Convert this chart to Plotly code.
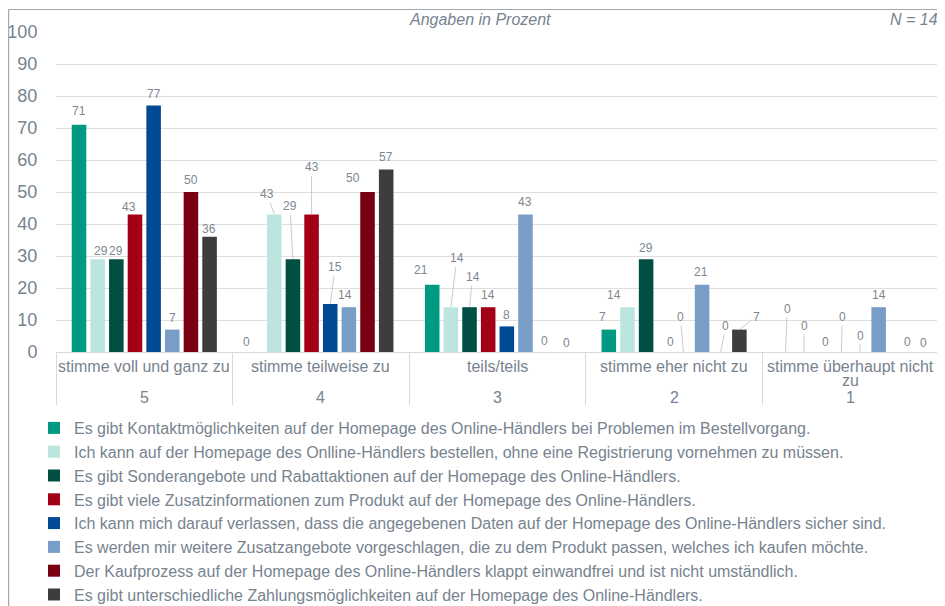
import plotly.graph_objects as go

# ---------------- data ----------------
groups = ["5", "4", "3", "2", "1"]
group_labels = ["stimme voll und ganz zu", "stimme teilweise zu", "teils/teils",
                "stimme eher nicht zu", "stimme überhaupt nicht<br>zu"]
series_names = [
    "Es gibt Kontaktmöglichkeiten auf der Homepage des Online-Händlers bei Problemen im Bestellvorgang.",
    "Ich kann auf der Homepage des Onlline-Händlers bestellen, ohne eine Registrierung vornehmen zu müssen.",
    "Es gibt Sonderangebote und Rabattaktionen auf der Homepage des Online-Händlers.",
    "Es gibt viele Zusatzinformationen zum Produkt auf der Homepage des Online-Händlers.",
    "Ich kann mich darauf verlassen, dass die angegebenen Daten auf der Homepage des Online-Händlers sicher sind.",
    "Es werden mir weitere Zusatzangebote vorgeschlagen, die zu dem Produkt passen, welches ich kaufen möchte.",
    "Der Kaufprozess auf der Homepage des Online-Händlers klappt einwandfrei und ist nicht umständlich.",
    "Es gibt unterschiedliche Zahlungsmöglichkeiten auf der Homepage des Online-Händlers.",
]
kontakt = [71, 0, 21, 7, 0]
ohne_registrierung = [29, 43, 14, 14, 0]
sonderangebote = [29, 29, 14, 29, 0]
zusatzinfos = [43, 43, 14, 0, 0]
datensicherheit = [77, 15, 8, 0, 0]
zusatzangebote = [7, 14, 43, 21, 14]
kaufprozess = [50, 50, 0, 0, 0]
zahlung = [36, 57, 0, 7, 0]
series_values = [kontakt, ohne_registrierung, sonderangebote, zusatzinfos,
                 datensicherheit, zusatzangebote, kaufprozess, zahlung]
y_ticks = [0, 10, 20, 30, 40, 50, 60, 70, 80, 90, 100]

# ---------------- styles ----------------
colors = ["#009a83", "#bde5e0", "#004f42", "#a30016", "#004a95", "#789dc7", "#790012", "#3d3d3d"]
FONT = "Liberation Sans, Arial, sans-serif"
TXT = "#77838f"
LBL = "#7d8790"
OFF = 8                      # page body margin
W, H = 945 - OFF, 606 - OFF
ML, MR = 56 - OFF, 6
MT = 32 - OFF
MB = H - (352 - OFF)
PW, PH = W - ML - MR, H - MT - MB
BARGAP, BARGROUPGAP = 0.155, 0.22
slot = PW / len(groups) * (1 - BARGAP) / len(series_values)

# label offsets (px) relative to bar-top centre: (series, group) -> (dx, dy, leader line)
offsets = {
    (0, 0): (0, -14, False), (1, 0): (3, -8, False), (2, 0): (0, -8, False), (3, 0): (-6, -7, False),
    (7, 0): (-1, -8, False),
    (0, 1): (-9, -10, False), (1, 1): (-7, -20, True), (2, 1): (-3, -53, True), (3, 1): (0, -47, True),
    (4, 1): (5, -37, True), (5, 1): (-4, -12, False), (6, 1): (-15, -14, False), (7, 1): (0, -13, False),
    (0, 2): (-11, -15, False), (1, 2): (6, -49, True), (2, 2): (3, -30, True), (4, 2): (0, -11, False),
    (6, 2): (0, -11, False), (7, 2): (4, -9, False),
    (0, 3): (-6, -13, False), (1, 3): (-13, -12, False), (2, 3): (0, -11, False), (3, 3): (6, -10, False),
    (4, 3): (-3, -35, True), (5, 3): (-1, -13, False), (6, 3): (5, -26, True), (7, 3): (17, -13, True),
    (0, 4): (2, -43, True), (1, 4): (0, -26, True), (2, 4): (3, -10, False), (3, 4): (1, -35, True),
    (4, 4): (0, -16, True), (6, 4): (10, -10, False), (7, 4): (8, -9, False),
}

fig = go.Figure()
for j, (name, vals) in enumerate(zip(series_names, series_values)):
    fig.add_trace(go.Bar(
        x=groups, y=vals, name=name, marker_color=colors[j], marker_line_width=0,
        legendgroup=f"g{j}",
    ))

annotations = []
for j, vals in enumerate(series_values):
    base_shift = (j - (len(series_values) - 1) / 2) * slot
    for g, v in enumerate(vals):
        dx, dy, line = offsets.get((j, g), (0, -12, False))
        if line:
            annotations.append(dict(
                x=g, y=v, xref="x", yref="y", text=str(v), xshift=base_shift,
                showarrow=True, ax=dx, ay=dy, arrowhead=0, arrowwidth=0.8, arrowcolor="#bfbfbf",
                standoff=0, font=dict(family=FONT, size=12, color=LBL),
            ))
        else:
            annotations.append(dict(
                x=g, y=v, xref="x", yref="y", text=str(v), xshift=base_shift + dx,
                yshift=-dy, showarrow=False, yanchor="middle",
                font=dict(family=FONT, size=12, color=LBL),
            ))

# category labels (two rows)
for g, lab in enumerate(group_labels):
    for k, line_txt in enumerate(lab.split("<br>")):
        annotations.append(dict(
            x=g, y=0, xref="x", yref="paper", text=line_txt, showarrow=False,
            yanchor="middle", yshift=-14 - 14 * k, font=dict(family=FONT, size=16, color=TXT),
        ))
    annotations.append(dict(
        x=g, y=0, xref="x", yref="paper", text=groups[g], showarrow=False,
        yanchor="middle", yshift=-45, font=dict(family=FONT, size=16, color=TXT),
    ))

# helpers: window pixel -> paper coordinate
def px_x(p):
    return (p - OFF - ML) / PW

def px_y(p):
    return (H - MB - (p - OFF)) / PH

annotations.append(dict(x=px_x(480), y=px_y(20), xref="paper", yref="paper", text="<i>Angaben in Prozent</i>",
                        showarrow=False, xanchor="center", yanchor="middle",
                        font=dict(family=FONT, size=16, color=TXT)))
annotations.append(dict(x=px_x(940), y=px_y(20), xref="paper", yref="paper", text="<i>N = 14</i>",
                        showarrow=False, xanchor="right", yanchor="middle",
                        font=dict(family=FONT, size=16, color=TXT)))

shapes = [
    dict(type="line", xref="paper", yref="paper", x0=px_x(8.6), x1=px_x(946), y0=px_y(9.5), y1=px_y(9.5),
         line=dict(color="#a3a8ad", width=1.2)),
    dict(type="line", xref="paper", yref="paper", x0=px_x(8.6), x1=px_x(8.6), y0=px_y(9.5), y1=px_y(607),
         line=dict(color="#a3a8ad", width=1.2)),
]

fig.update_layout(
    width=W, height=H, margin=dict(l=ML, r=MR, t=MT, b=MB, autoexpand=False),
    paper_bgcolor="white", plot_bgcolor="white",
    barmode="group", bargap=BARGAP, bargroupgap=BARGROUPGAP,
    font=dict(family=FONT, color=TXT),
    showlegend=True,
    legend=dict(x=px_x(34), y=px_y(411), xanchor="left", yanchor="top", orientation="v",
                font=dict(family=FONT, size=16, color=TXT), tracegroupgap=6.5,
                bgcolor="rgba(0,0,0,0)", traceorder="normal"),
    annotations=annotations, shapes=shapes,
    xaxis=dict(type="category", range=[-0.5, len(groups) - 0.5], automargin=False,
               showticklabels=False, ticks="outside", tickson="boundaries",
               ticklen=52, tickcolor="#d9d9d9", tickwidth=1, showline=True, linecolor="#d9d9d9",
               showgrid=False, fixedrange=True),
    yaxis=dict(range=[0, 100], tickvals=y_ticks, showgrid=True, gridcolor="#dedede", gridwidth=1,
               automargin=False, zeroline=False, ticks="outside", ticklen=14,
               tickcolor="rgba(0,0,0,0)",
               tickfont=dict(family=FONT, size=18, color=TXT), fixedrange=True),
)

fig.write_html("out.html")
